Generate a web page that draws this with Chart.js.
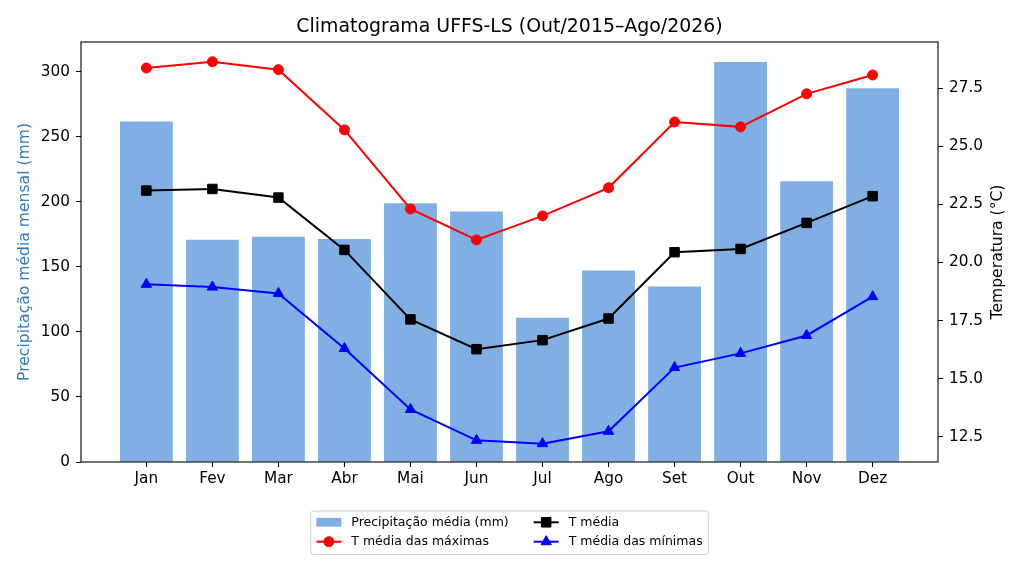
<!DOCTYPE html>
<html>
<head>
<meta charset="utf-8">
<script src="https://cdn.jsdelivr.net/npm/chart.js@4.4.1/dist/chart.umd.min.js"></script>
<style>
  html, body { margin: 0; padding: 0; background: #fff; }
  #wrap { width: 1024px; height: 569px; }
</style>
</head>
<body>
<div id="wrap"><canvas id="myChart" width="1024" height="569"></canvas></div>
<script>
// valores
var months = ['Jan', 'Fev', 'Mar', 'Abr', 'Mai', 'Jun', 'Jul', 'Ago', 'Set', 'Out', 'Nov', 'Dez'];
var precip = [261.8, 171.0, 173.3, 171.5, 199.0, 192.6, 111.0, 147.2, 134.9, 307.7, 215.9, 287.5];
var tMax = [28.36, 28.63, 28.29, 25.70, 22.30, 20.97, 22.00, 23.21, 26.04, 25.83, 27.25, 28.06];
var tMean = [23.09, 23.16, 22.79, 20.54, 17.55, 16.27, 16.66, 17.59, 20.44, 20.58, 21.70, 22.85];
var tMin = [19.06, 18.94, 18.67, 16.30, 13.68, 12.35, 12.21, 12.74, 15.48, 16.09, 16.86, 18.53];
var precipTicks = [0, 50, 100, 150, 200, 250, 300];
var tempTicks = [12.5, 15.0, 17.5, 20.0, 22.5, 25.0, 27.5];

var FONT = "'DejaVu Sans', sans-serif";
var tickFont = { family: FONT, size: 15.3 };
var labelSize = 15.6;

function pts(arr) {
  return arr.map(function (v, i) { return { x: i, y: v }; });
}

function lineSet(label, arr, color, style, r) {
  return {
    type: 'line',
    label: label,
    data: pts(arr),
    yAxisID: 'y2',
    borderColor: color,
    backgroundColor: color,
    pointBackgroundColor: color,
    pointBorderColor: color,
    pointBorderWidth: 1,
    pointStyle: style,
    pointRadius: r,
    borderWidth: 2,
    tension: 0,
    order: 1
  };
}

// moldura do eixo + título do eixo direito (lido de baixo p/ cima)
var framePlugin = {
  id: 'frame',
  afterDatasetsDraw: function (chart) {
    var a = chart.chartArea, ctx = chart.ctx;
    ctx.save();
    ctx.strokeStyle = '#000';
    ctx.lineWidth = 1.1;
    ctx.strokeRect(a.left, a.top, a.right - a.left, a.bottom - a.top);
    ctx.restore();
  },
  afterDraw: function (chart) {
    var a = chart.chartArea, ctx = chart.ctx;
    ctx.save();
    ctx.translate(998, (a.top + a.bottom) / 2);
    ctx.rotate(-Math.PI / 2);
    ctx.font = labelSize + 'px ' + FONT;
    ctx.fillStyle = '#000';
    ctx.textAlign = 'center';
    ctx.textBaseline = 'middle';
    ctx.fillText('Temperatura (°C)', 0, 0);
    ctx.restore();
  }
};

// legenda em duas colunas com caixa
var legendPlugin = {
  id: 'boxLegend',
  afterDraw: function (chart) {
    var ctx = chart.ctx, a = chart.chartArea;
    var ds = chart.data.datasets;
    var fs = 12.5;
    var cols = [[ds[0], ds[1]], [ds[2], ds[3]]];
    var hl = 2 * fs, tp = 0.8 * fs, cs = 2 * fs, bp = 0.45 * fs;
    ctx.save();
    ctx.font = fs + 'px ' + FONT;
    var colW = cols.map(function (c) {
      return hl + tp + Math.max(ctx.measureText(c[0].label).width, ctx.measureText(c[1].label).width);
    });
    var w = 2 * bp + colW[0] + cs + colW[1];
    var cx = (a.left + a.right) / 2;
    var left = cx - w / 2;
    var top = a.bottom + 49;
    var h = 43.5;
    var rows = [top + 11.3, top + 30.7];

    ctx.fillStyle = 'rgba(255,255,255,0.8)';
    ctx.strokeStyle = '#cccccc';
    ctx.lineWidth = 1;
    ctx.beginPath();
    if (ctx.roundRect) ctx.roundRect(left, top, w, h, 3); else ctx.rect(left, top, w, h);
    ctx.fill();
    ctx.stroke();

    var x0 = left + bp;
    cols.forEach(function (c, ci) {
      c.forEach(function (d, ri) {
        var y = rows[ri];
        if (d.type === 'bar' || !d.type) {
          ctx.fillStyle = d.backgroundColor;
          ctx.fillRect(x0, y - 4.4, hl, 8.75);
        } else {
          ctx.strokeStyle = d.borderColor;
          ctx.lineWidth = d.borderWidth;
          ctx.beginPath();
          ctx.moveTo(x0, y);
          ctx.lineTo(x0 + hl, y);
          ctx.stroke();
          ctx.fillStyle = d.pointBackgroundColor;
          ctx.strokeStyle = d.pointBorderColor;
          ctx.lineWidth = 1;
          Chart.helpers.drawPoint(ctx, { pointStyle: d.pointStyle, radius: d.pointRadius, rotation: 0, borderWidth: 1 }, x0 + hl / 2, y);
        }
        ctx.fillStyle = '#000';
        ctx.textBaseline = 'middle';
        ctx.textAlign = 'left';
        ctx.fillText(d.label, x0 + hl + tp, y);
      });
      x0 += colW[ci] + cs;
    });
    ctx.restore();
  }
};

var ctx = document.getElementById('myChart').getContext('2d');
var myChart = new Chart(ctx, {
  type: 'bar',
  data: {
    datasets: [
      {
        type: 'bar',
        label: 'Precipitação média (mm)',
        data: pts(precip),
        yAxisID: 'y',
        backgroundColor: '#7fafe3',
        borderWidth: 0,
        barPercentage: 0.8,
        categoryPercentage: 1.0,
        order: 2
      },
      lineSet('T média das máximas', tMax, '#ff0000', 'circle', 5),
      lineSet('T média', tMean, '#000000', 'rect', 6.7),
      lineSet('T média das mínimas', tMin, '#0000ff', 'triangle', 6)
    ]
  },
  options: {
    responsive: false,
    animation: false,
    layout: { padding: { left: 0, right: 5, top: 0, bottom: 77 } },
    plugins: {
      legend: { display: false },
      tooltip: { enabled: false },
      title: {
        display: true,
        text: 'Climatograma UFFS-LS (Out/2015–Ago/2026)',
        color: '#000',
        font: { family: FONT, size: 18.9, weight: 'normal' },
        padding: { top: 15.7, bottom: 3.6 }
      }
    },
    scales: {
      x: {
        type: 'linear',
        offset: false,
        min: -0.99,
        max: 11.99,
        afterBuildTicks: function (s) {
          s.ticks = months.map(function (m, i) { return { value: i }; });
        },
        afterFit: function (s) { s.height = 30; },
        ticks: {
          callback: function (v) { return months[v]; },
          color: '#000',
          font: tickFont,
          padding: 3,
          maxRotation: 0,
          autoSkip: false
        },
        grid: { display: true, offset: false, drawOnChartArea: false, drawTicks: true, tickLength: 5, tickColor: '#000', tickWidth: 1 },
        border: { display: false }
      },
      y: {
        position: 'left',
        min: 0,
        max: 323,
        afterBuildTicks: function (s) {
          s.ticks = precipTicks.map(function (v) { return { value: v }; });
        },
        afterFit: function (s) { s.width = 81; },
        ticks: { color: '#000', font: tickFont, padding: 6 },
        grid: { display: true, drawOnChartArea: false, drawTicks: true, tickLength: 5, tickColor: '#000', tickWidth: 1 },
        border: { display: false },
        title: {
          display: true,
          text: 'Precipitação média mensal (mm)',
          color: '#2f7bbd',
          font: { family: FONT, size: labelSize },
          padding: { top: 15.5, bottom: 0 }
        }
      },
      y2: {
        position: 'right',
        min: 11.42,
        max: 29.48,
        afterBuildTicks: function (s) {
          s.ticks = tempTicks.map(function (v) { return { value: v }; });
        },
        afterFit: function (s) { s.width = 81; },
        ticks: {
          color: '#000',
          font: tickFont,
          padding: 6,
          callback: function (v) { return Number(v).toFixed(1); }
        },
        grid: { display: true, drawOnChartArea: false, drawTicks: true, tickLength: 5, tickColor: '#000', tickWidth: 1 },
        border: { display: false }
      }
    }
  },
  plugins: [framePlugin, legendPlugin]
});
</script>
</body>
</html>
